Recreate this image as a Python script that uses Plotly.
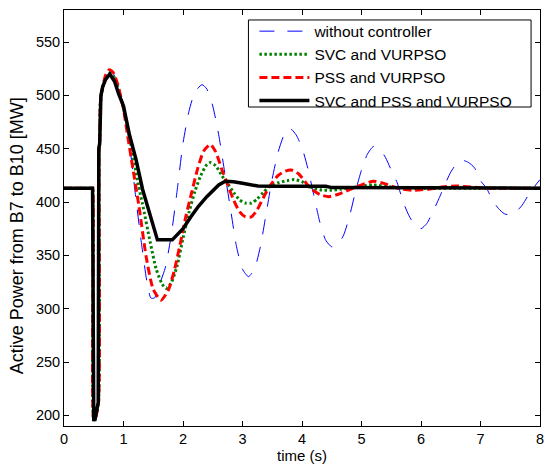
import plotly.graph_objects as go

# ---- data ----
t_blue = [0, 0.46, 0.47, 0.48, 0.5, 0.52, 0.58, 0.59, 0.6, 0.61, 0.65, 0.7, 0.76, 0.82, 0.9, 1.0, 1.1, 1.2, 1.3, 1.4,
          1.46, 1.52, 1.6, 1.7, 1.8, 1.9, 2.0, 2.1, 2.2, 2.32, 2.4, 2.5, 2.6, 2.7, 2.8, 2.9, 3.0, 3.1, 3.2,
          3.3, 3.4, 3.5, 3.6, 3.7, 3.8, 3.9, 4.0, 4.1, 4.2, 4.3, 4.4, 4.5, 4.6, 4.7, 4.8, 4.9, 5.0, 5.1,
          5.2, 5.3, 5.4, 5.5, 5.6, 5.7, 5.8, 5.9, 6.0, 6.1, 6.2, 6.3, 6.4, 6.5, 6.6, 6.7, 6.8, 6.9, 7.0,
          7.1, 7.2, 7.3, 7.4, 7.5, 7.6, 7.7, 7.8, 7.9, 8.0]
p_blue = [413, 413, 413, 413, 196, 196, 212, 450, 455, 492, 507, 517, 523, 521, 511, 491, 455, 407, 362, 323,
          310, 310, 322, 338, 368, 410, 455, 485, 503, 510, 506, 490, 463, 428, 393, 358, 337, 330, 337,
          358, 390, 422, 447, 463, 469, 463, 451, 431, 406, 381, 364, 358, 360, 369, 387, 410, 430, 445,
          452, 450, 442, 430, 418, 400, 387, 378, 375, 380, 391, 403, 416, 428, 436, 439, 437, 432, 420,
          413, 402, 394, 389, 388, 391, 397, 406, 414, 421]

t_green = [0, 0.46, 0.47, 0.48, 0.5, 0.52, 0.58, 0.59, 0.6, 0.61, 0.65, 0.7, 0.77, 0.85, 0.95, 1.05, 1.15, 1.25, 1.32,
           1.45, 1.55, 1.65, 1.72, 1.8, 1.9, 2.0, 2.1, 2.2, 2.3, 2.4, 2.46, 2.55, 2.65, 2.73, 2.85, 2.95,
           3.05, 3.15, 3.25, 3.35, 3.46, 3.6, 3.75, 3.87, 4.0, 4.14, 4.3, 4.48, 4.65, 4.9, 5.2, 5.5, 5.8, 8.0]
p_green = [413, 413, 413, 413, 196, 196, 212, 450, 455, 492, 507, 517, 521, 516, 499, 475, 446, 416, 398,
           362, 337, 323, 319, 324, 340, 366, 390, 410, 425, 435, 437, 434, 425, 419, 409, 402,
           399, 399, 403, 409, 414.7, 418, 420, 421, 419, 414, 411.5, 411, 412, 414, 416, 414, 413, 413]

t_red = [0, 0.46, 0.47, 0.48, 0.5, 0.52, 0.58, 0.59, 0.6, 0.61, 0.65, 0.7, 0.76, 0.82, 0.9, 1.0, 1.07, 1.15, 1.26, 1.38,
         1.5, 1.63, 1.75, 1.85, 1.95, 2.05, 2.15, 2.25, 2.35, 2.46, 2.55, 2.65, 2.73, 2.85, 2.95, 3.05,
         3.15, 3.25, 3.35, 3.46, 3.6, 3.72, 3.82, 3.95, 4.14, 4.3, 4.45, 4.6, 4.9, 5.2, 5.4, 5.6, 5.87,
         6.1, 6.35, 6.59, 6.85, 7.1, 8.0]
p_red = [413, 413, 413, 413, 196, 196, 212, 450, 455, 492, 508, 519, 524, 522, 511, 487, 462, 434, 396, 349,
         318, 308, 317, 335, 360, 387, 410, 432, 448, 454, 447, 431, 419, 402, 391, 386,
         386, 393, 404, 415, 425, 429, 430, 426, 413, 407, 405, 407, 414, 419.5, 417, 413, 411,
         412, 414, 415, 414, 413, 413]

t_black = [0, 0.48, 0.5, 0.52, 0.575, 0.585, 0.6, 0.62, 0.65, 0.7, 0.77, 0.85, 0.92, 1.0, 1.1, 1.21, 1.32,
           1.45, 1.57, 1.82, 2.0, 2.13, 2.26, 2.4, 2.5, 2.6, 2.71, 2.85, 3.0, 3.26, 3.5, 4.4, 4.5, 8.0]
p_black = [413, 413, 196, 196, 212, 450, 455, 500, 508, 515, 520, 513, 501, 490, 463, 440, 412,
           388, 364.5, 364.5, 375, 386, 396, 405, 411, 416, 419.5, 419, 417.5, 415, 414.7, 414.7, 413.5, 413]

names = ["without controller", "SVC and VURPSO", "PSS and VURPSO", "SVC and PSS and VURPSO"]
x_ticks = [0, 1, 2, 3, 4, 5, 6, 7, 8]
y_ticks = [200, 250, 300, 350, 400, 450, 500, 550]
x_title = "time (s)"
y_title = "Active Power from B7 to B10 [MW]"

FONT = "Arial, Liberation Sans, sans-serif"

fig = go.Figure()
fig.add_trace(go.Scatter(x=t_blue, y=p_blue, mode="lines", name=names[0],
                         line=dict(color="#0000ff", width=1, dash="15px,13px", shape="spline", smoothing=0.6)))
fig.add_trace(go.Scatter(x=t_green, y=p_green, mode="lines", name=names[1],
                         line=dict(color="#008000", width=3, dash="2.5px,2.5px", shape="spline", smoothing=0.6)))
fig.add_trace(go.Scatter(x=t_red, y=p_red, mode="lines", name=names[2],
                         line=dict(color="#ff0000", width=3, dash="8px,4px", shape="spline", smoothing=0.6)))
fig.add_trace(go.Scatter(x=t_black, y=p_black, mode="lines", name=names[3],
                         line=dict(color="#000000", width=3.5)))

axis_common = dict(showline=True, linecolor="black", linewidth=1, mirror="ticks",
                   ticks="inside", ticklen=5, tickcolor="black", showgrid=False, zeroline=False,
                   ticklabeloverflow="allow",
                   tickfont=dict(family=FONT, size=14.5, color="black"))

fig.update_layout(
    width=548, height=466,
    margin=dict(l=64, r=4, t=10, b=40, pad=0),
    paper_bgcolor="white", plot_bgcolor="white",
    font=dict(family=FONT, color="black"),
    xaxis=dict(range=[0, 8], tickvals=x_ticks,
               title=dict(text=x_title, font=dict(family=FONT, size=15), standoff=4),
               **axis_common),
    yaxis=dict(range=[190, 580], tickvals=y_ticks, **axis_common),
    annotations=[dict(text=y_title, textangle=-90, xref="paper", yref="paper",
                      x=-0.098, y=0.457, xanchor="center", yanchor="middle", showarrow=False,
                      font=dict(family=FONT, size=18, color="black"))],
    # legend frame (MATLAB-style box)
    shapes=[dict(type="rect", xref="paper", yref="paper",
                 x0=0.3875, x1=0.98125, y0=0.7668, y1=0.976,
                 line=dict(color="black", width=1), fillcolor="white", layer="below")],
    legend=dict(x=0.4, y=0.989, xanchor="left", yanchor="top",
                borderwidth=0, bgcolor="rgba(0,0,0,0)",
                font=dict(family=FONT, size=15.5), itemwidth=50, tracegroupgap=0),
    showlegend=True,
)

fig.write_html("out.html")
